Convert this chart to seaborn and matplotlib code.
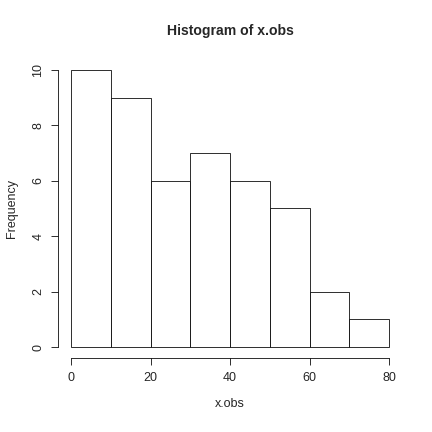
import matplotlib
matplotlib.use("Agg")
import matplotlib.pyplot as plt
import seaborn as sns

# bin edges and counts
bin_edges = [0, 10, 20, 30, 40, 50, 60, 70, 80]
bin_mids = [5, 15, 25, 35, 45, 55, 65, 75]
counts = [10, 9, 6, 7, 6, 5, 2, 1]
x_ticks = [0, 20, 40, 60, 80]
y_ticks = [0, 2, 4, 6, 8, 10]

sns.set_style("white")
plt.rcParams["font.family"] = ["Liberation Sans", "DejaVu Sans"]

fig = plt.figure(figsize=(6, 6), dpi=72)
ax = fig.add_axes([0.135, 0.171, 0.795, 0.693])

sns.histplot(x=bin_mids, weights=counts, bins=bin_edges, ax=ax,
             color="white", edgecolor="black", linewidth=0.8, alpha=1)

ax.set_xlim(-3.2, 83.2)
ax.set_ylim(-0.4, 10.4)
ax.set_xticks(x_ticks)
ax.set_yticks(y_ticks)
ax.set_xticklabels([str(v) for v in x_ticks], fontsize=12.5)
ax.set_yticklabels([str(v) for v in y_ticks], rotation=90, va="center",
                   fontsize=12.5)

for side in ["top", "right"]:
    ax.spines[side].set_visible(False)
ax.spines["left"].set_bounds(0, 10)
ax.spines["bottom"].set_bounds(0, 80)
for side in ["left", "bottom"]:
    ax.spines[side].set_color("black")
    ax.spines[side].set_linewidth(0.8)

ax.tick_params(axis="both", direction="out", length=7, width=0.8,
               color="black", pad=7, left=True, bottom=True)

ax.set_xlabel("x.obs", fontsize=12.5, labelpad=14)
ax.set_ylabel("Frequency", fontsize=12.5, labelpad=14)
ax.set_title("Histogram of x.obs", fontsize=14, fontweight="bold", pad=24)

fig.savefig("out.png", dpi=72)
